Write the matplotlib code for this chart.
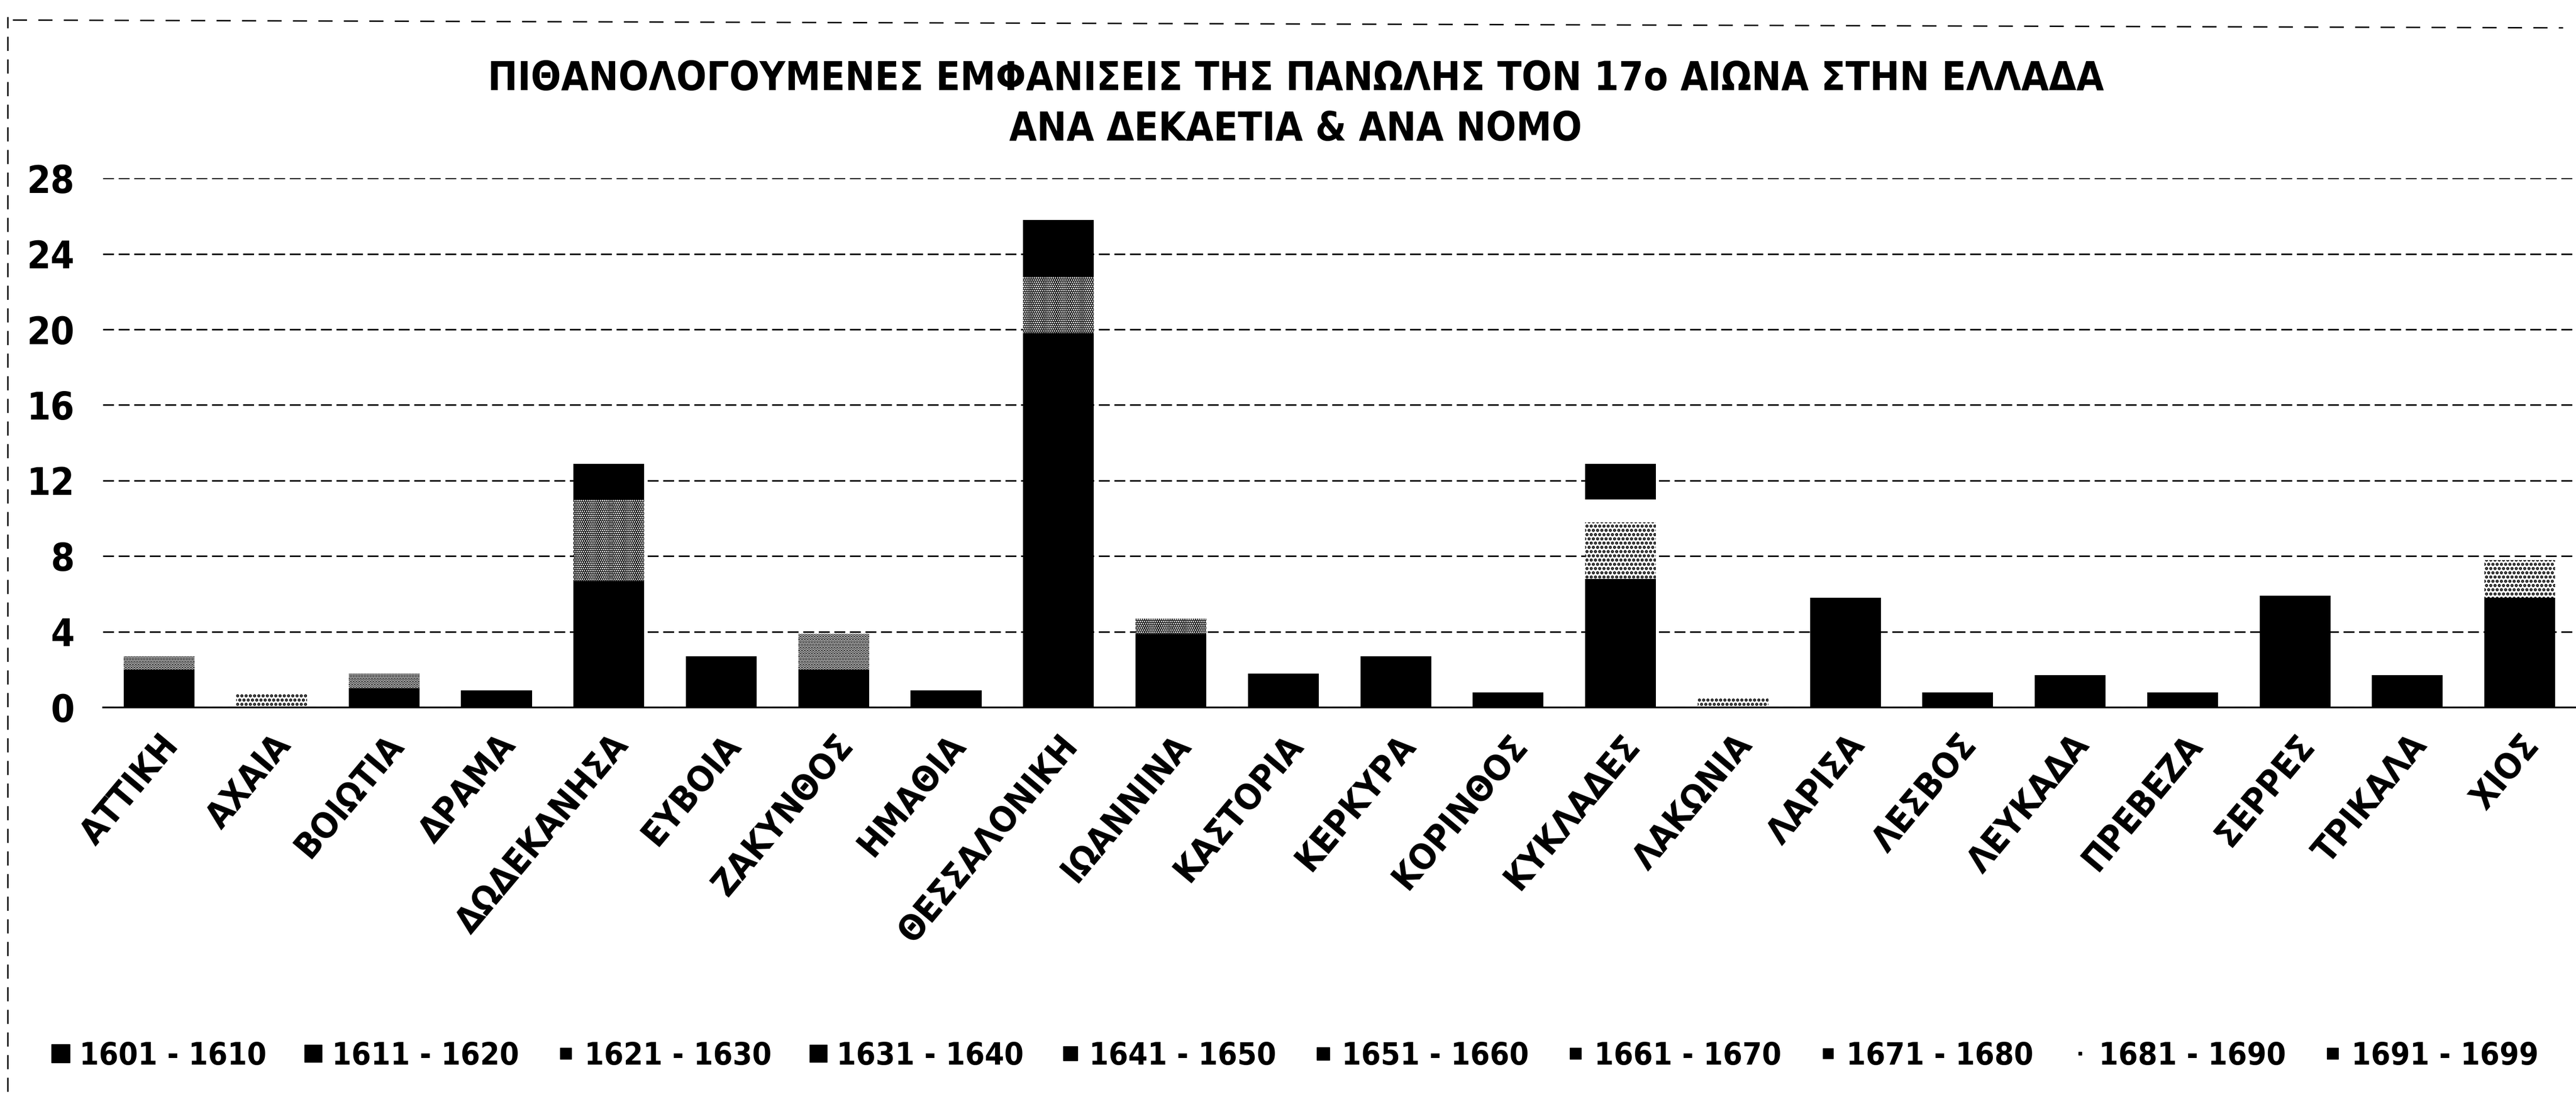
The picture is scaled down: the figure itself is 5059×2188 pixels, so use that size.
import matplotlib.pyplot as plt
from matplotlib.lines import Line2D
import numpy as np

plt.rcParams['font.family'] = ['DejaVu Sans']
plt.rcParams['font.stretch'] = 'condensed'
plt.rcParams['font.weight'] = 'bold'
plt.rcParams['hatch.linewidth'] = 3.0

nomoi = ["ΑΤΤΙΚΗ", "ΑΧΑΙΑ", "ΒΟΙΩΤΙΑ", "ΔΡΑΜΑ", "ΔΩΔΕΚΑΝΗΣΑ", "ΕΥΒΟΙΑ",
         "ΖΑΚΥΝΘΟΣ", "ΗΜΑΘΙΑ", "ΘΕΣΣΑΛΟΝΙΚΗ", "ΙΩΑΝΝΙΝΑ", "ΚΑΣΤΟΡΙΑ",
         "ΚΕΡΚΥΡΑ", "ΚΟΡΙΝΘΟΣ", "ΚΥΚΛΑΔΕΣ", "ΛΑΚΩΝΙΑ", "ΛΑΡΙΣΑ", "ΛΕΣΒΟΣ",
         "ΛΕΥΚΑΔΑ", "ΠΡΕΒΕΖΑ", "ΣΕΡΡΕΣ", "ΤΡΙΚΑΛΑ", "ΧΙΟΣ"]

decades = ["1601 - 1610", "1611 - 1620", "1621 - 1630", "1631 - 1640",
           "1641 - 1650", "1651 - 1660", "1661 - 1670", "1671 - 1680",
           "1681 - 1690", "1691 - 1699"]

# appearances per decade, one value per nomos (same order as nomoi)
d1601 = [2.0, 0, 1.0, 0, 4.0, 0, 2.0, 0, 8.0, 3.9, 0, 2.7, 0, 6.8, 0, 5.8, 0, 0, 0, 5.9, 0, 5.8]
d1611 = [0, 0, 0, 0, 2.7, 2.7, 0, 0, 5.0, 0, 0, 0, 0.8, 0, 0, 0, 0, 1.7, 0, 0, 1.7, 0]
d1621 = [0.7, 0, 0.8, 0, 0, 0, 1.9, 0, 0, 0, 0, 0, 0, 0, 0, 0, 0, 0, 0, 0, 0, 0]
d1631 = [0, 0, 0, 0.9, 0, 0, 0, 0, 4.0, 0, 1.8, 0, 0, 0, 0, 0, 0, 0, 0.8, 0, 0, 0]
d1641 = [0, 0, 0, 0, 0, 0, 0, 0.9, 1.8, 0, 0, 0, 0, 0, 0, 0, 0.8, 0, 0, 0, 0, 0]
d1651 = [0, 0, 0, 0, 0, 0, 0, 0, 1.0, 0, 0, 0, 0, 0, 0, 0, 0, 0, 0, 0, 0, 0]
d1661 = [0, 0, 0, 0, 4.3, 0, 0, 0, 3.0, 0.8, 0, 0, 0, 0, 0, 0, 0, 0, 0, 0, 0, 0]
d1671 = [0, 0.7, 0, 0, 0, 0, 0, 0, 0, 0, 0, 0, 0, 3.0, 0.5, 0, 0, 0, 0, 0, 0, 2.0]
d1681 = [0, 0, 0, 0, 0, 0, 0, 0, 0, 0, 0, 0, 0, 1.2, 0, 0, 0, 0, 0, 0, 0, 0]
d1691 = [0, 0, 0, 0, 1.9, 0, 0, 0, 3.0, 0, 0, 0, 0, 1.9, 0, 0, 0, 0, 0, 0, 0, 0]

series = [d1601, d1611, d1621, d1631, d1641, d1651, d1661, d1671, d1681, d1691]

# printed in black & white: dark decades solid, light ones as a dotted screen
fills = ["black", "black", "white", "black", "black", "black", "white", "white", "white", "black"]
hatches = [None, None, "...", None, None, None, "....", "..", None, None]
marker_sizes = [26, 24, 16, 24, 20, 18, 16, 14, 4, 16]

fig = plt.figure(figsize=(50.59, 21.88), dpi=100)
ax = fig.add_axes([0.04, 0.365, 0.96, 0.475])

x = np.arange(len(nomoi))
bottom = np.zeros(len(nomoi))
for vals, fc, h in zip(series, fills, hatches):
    vals = np.array(vals, dtype=float)
    ax.bar(x, vals, width=0.63, bottom=bottom, color=fc, hatch=h,
           edgecolor="black", linewidth=0)
    bottom += vals

ax.set_xlim(-0.5, len(nomoi) - 0.5)
ax.set_ylim(0, 28)
ax.set_yticks(range(0, 29, 4))
ax.yaxis.grid(True, color="black", linewidth=2.2, linestyle=(0, (7, 3)))
ax.set_axisbelow(True)
for side in ["top", "right", "left"]:
    ax.spines[side].set_visible(False)
ax.spines["bottom"].set_linewidth(2.5)
ax.tick_params(axis="y", length=0, pad=40, labelsize=54)
ax.tick_params(axis="x", length=0, pad=30)

ax.set_xticks(x)
ax.set_xticklabels(nomoi, rotation=50, ha="right", va="top",
                   rotation_mode="anchor", fontsize=50)

fig.text(0.503, 0.929, "ΠΙΘΑΝΟΛΟΓΟΥΜΕΝΕΣ ΕΜΦΑΝΙΣΕΙΣ ΤΗΣ ΠΑΝΩΛΗΣ ΤΟΝ 17ο ΑΙΩΝΑ ΣΤΗΝ ΕΛΛΑΔΑ",
         ha="center", va="center", fontsize=56, fontweight="bold")
fig.text(0.503, 0.884, "ΑΝΑ ΔΕΚΑΕΤΙΑ & ΑΝΑ ΝΟΜΟ",
         ha="center", va="center", fontsize=56, fontweight="bold")

handles = [Line2D([], [], linestyle="none", marker="s", markersize=ms,
                  markerfacecolor="black", markeredgecolor="black")
           for ms in marker_sizes]
fig.legend(handles, decades, loc="center", bbox_to_anchor=(0.503, 0.052),
           ncol=10, frameon=False, fontsize=44, handlelength=0.5,
           handletextpad=0.35, columnspacing=1.25)

# outer chart border (left and top edges only)
fig.add_artist(Line2D([0.003, 0.003], [0.02, 0.985], transform=fig.transFigure,
                      color="black", linewidth=2, linestyle=(0, (10, 6))))
fig.add_artist(Line2D([0.005, 0.995], [0.982, 0.975], transform=fig.transFigure,
                      color="black", linewidth=2, linestyle=(0, (10, 8))))

fig.savefig("out.png", dpi=100)
